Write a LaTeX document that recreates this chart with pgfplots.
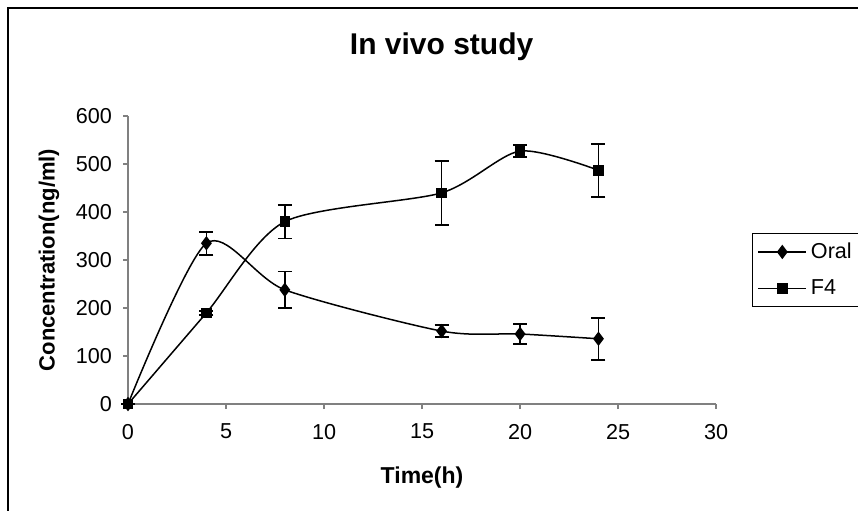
\documentclass[border=0pt]{standalone}
\usepackage{fontspec}
\setmainfont{Liberation Sans}
\usepackage{pgfplots}
\pgfplotsset{compat=1.18}

\pgfplotstableread{
t c e
0 0 0
4 335 24
8 238 38
16 152 12
20 146 21
24 136 44
}\oral
\pgfplotstableread{
t c e
0 0 0
4 190 4
8 380 35
16 440 67
20 527 13
24 487 55
}\ffour

\begin{document}
\begin{tikzpicture}
\begin{axis}[
    scale only axis,
    width=294pt, height=144pt,
    xmin=0, xmax=30, ymin=0, ymax=600,
    xtick={0,5,...,30}, ytick={0,100,...,600},
    axis x line*=bottom, axis y line*=left,
    axis line style={gray, line width=0.6pt},
    tick style={gray, line width=0.6pt},
    tick align=outside,
    major tick length=2.5pt,
    tick label style={font=\fontsize{10.8}{12}\selectfont},
    xticklabel style={yshift=-4pt},
    yticklabel style={xshift=-2pt},
    /pgf/number format/assume math mode=true,
    clip=false,
    legend style={
        at={(axis cs:31.84,356)}, anchor=north west,
        draw=black, line width=0.5pt,
        font=\fontsize{10.8}{11}\selectfont,
        row sep=5pt, inner sep=2.5pt
    },
    legend cell align=left,
    legend image code/.code={
        \draw[mark repeat=2, mark phase=2, #1]
        plot coordinates {(0cm,0cm) (0.42cm,0cm) (0.84cm,0cm)};
    },
]

\addplot[black, line width=0.75pt, smooth, tension=0.45,
    mark=diamond*, mark size=3pt, mark options={solid, fill=black},
    error bars/.cd, y dir=both, y explicit,
    error mark options={rotate=90, black, line width=0.85pt, mark size=3.5pt},
    error bar style={black, line width=0.8pt}]
    table[x=t, y=c, y error=e] {\oral};
\addlegendentry{Oral}

\addplot[black, line width=0.75pt, smooth, tension=0.45,
    mark=square*, mark size=2.25pt, mark options={solid, fill=black},
    error bars/.cd, y dir=both, y explicit,
    error mark options={rotate=90, black, line width=0.85pt, mark size=3.5pt},
    error bar style={black, line width=0.8pt}]
    table[x=t, y=c, y error=e] {\ffour};
\addlegendentry{F4}

\node[font=\bfseries\fontsize{15}{17}\selectfont] at (axis cs:16.0,744) {In vivo study};
\node[font=\bfseries\fontsize{11.5}{13}\selectfont] at (axis cs:15.0,-154) {Time(h)};
\node[font=\bfseries\fontsize{11}{13}\selectfont, rotate=90] at (axis cs:-4.03,300) {Concentration(ng/ml)};

% outer chart frame (left and top edges visible)
\draw[black, line width=0.75pt] (axis cs:-6.12,-240) -- (axis cs:-6.12,825) -- (axis cs:40,825);

\coordinate (bl) at (axis cs:-6.53,-220.8);
\coordinate (tr) at (axis cs:37.24,841.7);
\end{axis}
\pgfresetboundingbox
\path (bl) rectangle (tr);
\end{tikzpicture}
\end{document}
